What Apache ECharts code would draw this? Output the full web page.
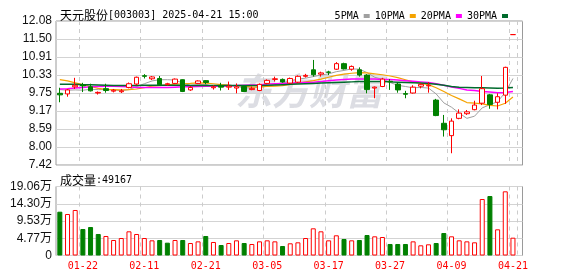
<!DOCTYPE html>
<html>
<head>
<meta charset="utf-8">
<script src="https://cdn.jsdelivr.net/npm/echarts@6/dist/echarts.min.js"></script>
<style>html,body{margin:0;padding:0;background:#fff;}#c{width:578px;height:276px;}</style>
</head>
<body>
<div id="c"></div>
<script>
var dates = ['01-17','01-20','01-21','01-22','01-23','01-24','01-27','02-05','02-06','02-07','02-10','02-11','02-12','02-13','02-14','02-17','02-18','02-19','02-20','02-21','02-24','02-25','02-26','02-27','02-28','03-03','03-04','03-05','03-06','03-07','03-10','03-11','03-12','03-13','03-14','03-17','03-18','03-19','03-20','03-21','03-24','03-25','03-26','03-27','03-28','03-31','04-01','04-02','04-03','04-07','04-08','04-09','04-10','04-11','04-14','04-15','04-16','04-17','04-18','04-21'];
// [open, close, low, high]
var ohlc = [
[9.74,9.69,9.45,9.92],[9.72,9.85,9.63,9.88],[9.95,10.00,9.88,10.24],[10.01,9.98,9.78,10.08],[9.95,9.82,9.80,10.05],
[9.75,9.77,9.70,9.80],[9.89,9.83,9.76,10.05],[9.81,9.84,9.77,9.88],[9.79,9.82,9.75,9.88],[9.93,10.05,9.90,10.09],
[10.04,10.26,10.00,10.28],[10.31,10.29,10.22,10.36],[10.21,10.27,10.17,10.30],[10.22,10.02,10.00,10.30],[10.02,10.05,9.99,10.08],
[10.06,10.20,10.04,10.22],[10.18,9.80,9.78,10.19],[9.85,9.93,9.82,9.97],[10.06,10.14,10.04,10.16],[10.15,10.09,10.03,10.17],
[9.92,9.95,9.86,10.00],[9.98,9.94,9.83,10.08],[9.94,9.97,9.85,10.12],[9.91,9.95,9.74,10.06],[9.96,9.80,9.78,9.99],
[9.86,9.90,9.84,9.96],[9.83,10.03,9.81,10.06],[10.06,10.16,10.03,10.19],[10.19,10.21,10.12,10.28],[10.19,10.11,10.08,10.22],
[10.07,10.22,10.05,10.25],[10.10,10.29,10.07,10.32],[10.29,10.32,10.25,10.37],[10.50,10.34,10.28,10.82],[10.36,10.40,10.28,10.44],
[10.43,10.42,10.33,10.47],[10.52,10.70,10.50,10.75],[10.70,10.53,10.51,10.73],[10.52,10.61,10.47,10.64],[10.50,10.33,10.28,10.58],
[10.33,9.86,9.74,10.36],[9.91,9.94,9.58,9.96],[9.96,10.20,9.94,10.24],[10.13,10.11,9.85,10.20],[10.04,9.85,9.76,10.08],
[9.73,9.71,9.58,9.82],[9.75,9.94,9.73,10.00],[9.97,10.03,9.90,10.06],[9.98,10.00,9.76,10.10],[9.52,9.02,9.00,9.56],
[8.77,8.56,8.34,9.04],[8.37,8.84,7.80,8.93],[8.93,9.10,8.90,9.22],[9.08,9.14,9.04,9.20],[9.21,9.36,9.19,9.50],
[9.42,9.89,9.36,10.30],[9.69,9.38,9.24,9.72],[9.45,9.63,9.22,9.74],[9.68,10.58,9.40,10.60],[11.64,11.64,11.64,11.64]
];
var volumes = [121000,114600,125700,73200,78700,59400,53900,42800,48300,66800,
59400,48300,41900,42800,35400,42800,42800,34500,39100,53900,
37300,29000,34500,41900,34500,31800,39100,41900,39100,26200,
33700,36400,48300,75100,66800,41900,55800,45600,41900,42800,
56600,53000,51100,31800,31800,31800,39100,28100,30900,34500,
62100,53000,41900,39100,36400,156000,164300,72300,177300,49167];
// volume bar colour: 'r' hollow red, 'g' filled green
var volDir = ['g','r','r','g','g','g','r','r','r','r','r','r','r','g','g','r','g','r','r','g',
'r','g','r','r','g','r','r','r','r','g','r','r','r','r','r','r','r','g','r','g',
'g','r','r','g','g','g','r','r','r','g','g','r','r','r','r','r','g','r','r','r'];
var ma5 = [9.86,9.84,9.85,9.84,9.87,9.86,9.86,9.85,9.82,9.86,9.96,10.05,10.14,10.18,10.18,10.17,10.07,10.00,10.02,10.03,9.96,10.01,10.02,9.96,9.92,9.91,9.93,9.97,10.02,10.08,10.14,10.20,10.23,10.28,10.33,10.37,10.44,10.48,10.53,10.52,10.41,10.26,10.19,10.09,10.00,9.96,9.92,9.93,9.91,9.72,9.43,9.29,9.10,8.93,9.00,9.27,9.37,9.47,9.77,10.22];
var ma10 = [10.18,10.14,10.08,10.02,9.96,9.90,9.87,9.86,9.85,9.86,9.88,9.92,9.97,9.99,10.01,10.04,10.05,10.06,10.08,10.07,10.05,10.02,10.00,9.99,9.97,9.94,9.95,9.96,9.97,9.99,10.03,10.07,10.11,10.15,10.20,10.26,10.32,10.36,10.39,10.41,10.40,10.37,10.34,10.30,10.25,10.18,10.11,10.06,10.02,9.92,9.80,9.67,9.56,9.44,9.42,9.40,9.35,9.33,9.42,9.62];
var ma20 = [9.88,9.89,9.91,9.93,9.95,9.96,9.97,9.97,9.96,9.95,9.93,9.93,9.93,9.93,9.93,9.94,9.95,9.95,9.96,9.97,9.97,9.97,9.98,9.99,10.00,10.01,10.02,10.04,10.05,10.06,10.07,10.08,10.09,10.10,10.12,10.15,10.17,10.19,10.20,10.20,10.20,10.20,10.19,10.19,10.17,10.15,10.13,10.11,10.09,10.05,10.00,9.94,9.90,9.85,9.83,9.80,9.78,9.76,9.77,9.80];
var ma30 = [10.03,10.03,10.03,10.02,10.02,10.01,10.00,9.99,9.99,9.99,9.99,10.00,10.00,10.00,10.00,10.00,10.00,9.99,9.99,9.99,9.99,9.99,9.99,9.99,9.99,9.99,9.99,10.00,10.01,10.02,10.03,10.04,10.05,10.06,10.07,10.08,10.09,10.10,10.11,10.12,10.12,10.12,10.12,10.11,10.10,10.09,10.08,10.07,10.06,10.03,10.00,9.96,9.94,9.93,9.92,9.92,9.91,9.90,9.91,9.93];
var priceTicks = ['7.42','8.00','8.59','9.17','9.75','10.33','10.91','11.50','12.08'];
var volTicks = ['0','4.77万','9.53万','14.30万','19.06万'];
var priceMin = 7.42, priceMax = 12.08, volMax = 190600;

var UP = '#ff0000', DOWN = '#008000';
var volData = volumes.map(function (v, i) {
  return { value: v, itemStyle: volDir[i] === 'r' ? { color: '#fff', borderColor: UP, borderWidth: 1 } : { color: DOWN, borderColor: DOWN, borderWidth: 1 } };
});

var mono = '"DejaVu Sans Mono", "Liberation Mono", monospace';
var sans = '"Liberation Sans", Arial, sans-serif';
var cjk = '"Noto Sans CJK SC", sans-serif';

var chart = echarts.init(document.getElementById('c'), null, { renderer: 'canvas' });
var L = 56, FRAMEW = 466.5, DATAW = 460.8;
var gridTopP = 21, hP = 144, gridTopV = 186.5, hV = 69;

function frameX(gi) {
  return { type: 'category', gridIndex: gi, data: [''], show: false };
}
function lineSeries(name, data, color, w) {
  return { name: name, type: 'line', xAxisIndex: 1, yAxisIndex: 1, data: data, symbol: 'none', smooth: false,
    lineStyle: { color: color, width: w }, itemStyle: { color: color }, z: 3, silent: true };
}
var richTitle = { a: { fontFamily: cjk, fontSize: 12, color: '#000', fontWeight: 'normal' }, b: { fontFamily: mono, fontSize: 10, color: '#000', fontWeight: 'normal' } };

chart.setOption({
  animation: false,
  backgroundColor: '#fff',
  title: [
    { left: L - 1, top: 4, text: '{a|天元股份}{b|[003003] 2025-04-21 15:00}',
      textStyle: { fontWeight: 'normal', rich: richTitle } },
    { left: L - 1, top: 169, text: '{a|成交量}{b|:' + volumes[volumes.length - 1] + '}',
      textStyle: { fontWeight: 'normal', rich: richTitle } }
  ],
  legend: {
    right: 65, top: 6, itemWidth: 6, itemHeight: 4, itemGap: 5, align: 'right', icon: 'rect', selectedMode: false,
    data: ['5PMA', '10PMA', '20PMA', '30PMA'],
    textStyle: { fontFamily: mono, fontSize: 10, color: '#000' }
  },
  graphic: [
    { type: 'text', left: 235, top: 72, z: -10, silent: true,
      style: { text: '东方财富', font: 'italic bold 37px "Noto Sans CJK SC"', fill: '#dcdde3' } }
  ],
  grid: [
    { left: L, top: gridTopP, width: FRAMEW, height: hP, show: true, borderColor: '#9a9a9a', borderWidth: 1, backgroundColor: 'transparent' },
    { left: L, top: gridTopP, width: DATAW, height: hP },
    { left: L, top: gridTopV, width: FRAMEW, height: hV, show: true, borderColor: '#9a9a9a', borderWidth: 1, backgroundColor: 'transparent' },
    { left: L, top: gridTopV, width: DATAW, height: hV }
  ],
  xAxis: [
    frameX(0),
    { type: 'category', gridIndex: 1, data: dates, boundaryGap: true,
      axisLine: { show: false }, axisTick: { show: false }, axisLabel: { show: false },
      splitLine: { show: true, interval: function (i) { return i % 8 === 3; }, lineStyle: { type: [4, 4], color: '#cccccc', width: 1 } } },
    frameX(2),
    { type: 'category', gridIndex: 3, data: dates, boundaryGap: true,
      axisLine: { show: false }, axisTick: { show: false },
      axisLabel: { show: true, interval: function (i) { return i % 8 === 3; }, color: '#ff0000', fontFamily: mono, fontSize: 10, margin: 6 },
      splitLine: { show: true, interval: function (i) { return i % 8 === 3; }, lineStyle: { type: [4, 4], color: '#cccccc', width: 1 } } }
  ],
  yAxis: [
    { type: 'value', gridIndex: 0, min: 0, max: priceTicks.length - 1, interval: 1,
      axisLine: { show: false }, axisTick: { show: false },
      axisLabel: { margin: 4, color: '#111', fontFamily: sans, fontSize: 12, formatter: function (v) { return priceTicks[Math.round(v)]; } },
      splitLine: { show: true, lineStyle: { color: '#d3d3d3', width: 1 } } },
    { type: 'value', gridIndex: 1, min: priceMin, max: priceMax, show: false, splitLine: { show: false } },
    { type: 'value', gridIndex: 2, min: 0, max: volTicks.length - 1, interval: 1,
      axisLine: { show: false }, axisTick: { show: false },
      axisLabel: { margin: 4, color: '#111', fontFamily: sans + ', ' + cjk, fontSize: 12, formatter: function (v) { return volTicks[Math.round(v)]; } },
      splitLine: { show: true, lineStyle: { color: '#d3d3d3', width: 1 } } },
    { type: 'value', gridIndex: 3, min: 0, max: volMax, show: false, splitLine: { show: false } }
  ],
  series: [
    { type: 'candlestick', name: 'K', xAxisIndex: 1, yAxisIndex: 1, data: ohlc, barWidth: 5, z: 4, silent: true,
      itemStyle: { color: '#ffffff', color0: DOWN, borderColor: UP, borderColor0: DOWN, borderWidth: 1 } },
    lineSeries('5PMA', ma5, '#a0a0a0', 1),
    lineSeries('10PMA', ma10, '#f5a300', 1.2),
    lineSeries('20PMA', ma20, '#ff00ff', 1.5),
    lineSeries('30PMA', ma30, '#006b2d', 1.5),
    { type: 'bar', xAxisIndex: 3, yAxisIndex: 3, data: volData, barWidth: 5, silent: true }
  ]
});
</script>
</body>
</html>
